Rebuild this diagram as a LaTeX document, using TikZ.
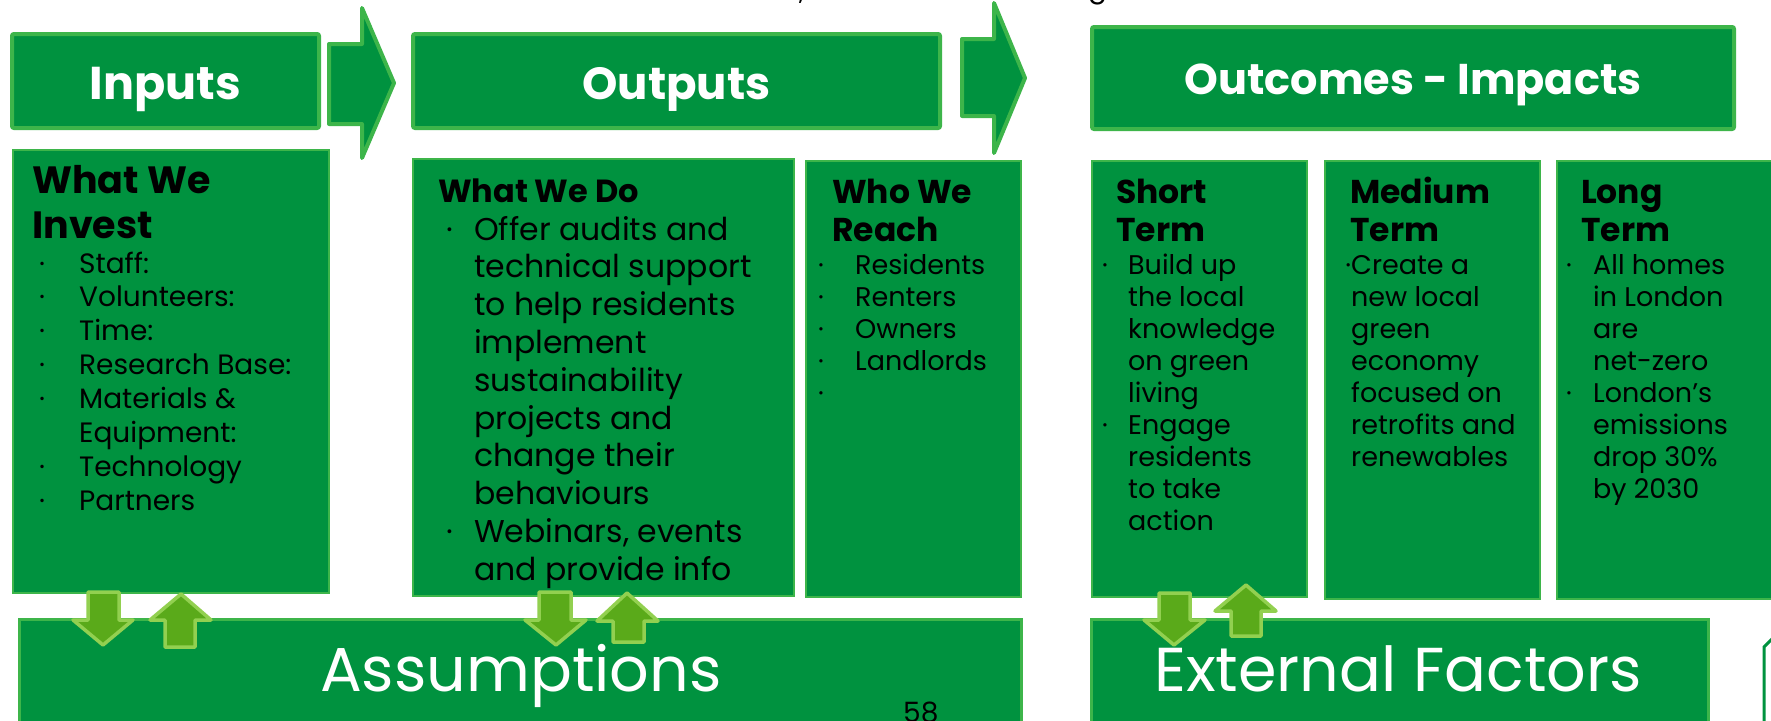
\documentclass[tikz,border=0pt]{standalone}
\usepackage{fontspec}
\setmainfont{Poppins}
\usepackage{graphicx}
\definecolor{dg}{HTML}{00923F}
\definecolor{lg}{HTML}{3DB54A}
\definecolor{af}{HTML}{5AAA1A}
\definecolor{ab}{HTML}{92D050}
\renewcommand{\arraystretch}{1}
\begin{document}
\begin{tikzpicture}[x=1pt,y=-1pt,
  hdr/.style={fill=dg, draw=lg, line width=4pt, rounded corners=2pt},
  colbox/.style={fill=dg, draw=lg, line width=2pt},
  barbox/.style={fill=dg, draw=lg, line width=3pt},
  bigarrow/.style={fill=dg, draw=lg, line width=4pt, line join=round},
  smallarrow/.style={fill=af, draw=ab, line width=3.5pt, line join=round},
  htext/.style={text=white, inner sep=0pt, anchor=base, font=\fontsize{46}{50}\selectfont\bfseries},
  btext/.style={text=white, inner sep=0pt, anchor=base west, font=\fontsize{62}{66}\selectfont},
  txt/.style={inner sep=0pt, anchor=base west, text=black}
]
\clip (0,0) rectangle (1771,720);
\fill[white] (0,0) rectangle (1771,720);

% cut-off title descenders
\node[txt, font=\fontsize{28}{30}\selectfont] (t1) at (799,-1) {,};
\node[txt, font=\fontsize{28}{30}\selectfont] (t2) at (1088,-2) {g};

% headers
\draw[hdr] (12,34) rectangle (319,128);
\draw[hdr] (413,34) rectangle (940,128);
\draw[hdr] (1092,27) rectangle (1734,129);
\node[htext] (inputs) at (165.5,99) {Inputs};
\node[htext, font=\fontsize{45}{50}\selectfont\bfseries] (outputs) at (676.5,99) {Outputs};
\node[htext, font=\fontsize{43}{50}\selectfont\bfseries] (outcomes) at (1413,94) {Outcomes - Impacts};

% big arrows
\draw[bigarrow] (329,44) -- (362,44) -- (362,8) -- (394,83) -- (362,158) -- (362,124) -- (329,124) -- cycle;
\draw[bigarrow] (962,39) -- (994,39) -- (994,3) -- (1025,78) -- (994,153) -- (994,116) -- (962,116) -- cycle;

% columns
\draw[colbox] (13,150) rectangle (329,593);
\draw[colbox] (413,159) rectangle (794,596);
\draw[colbox] (806,161) rectangle (1021,597);
\draw[colbox] (1092,161) rectangle (1307,597);
\draw[colbox] (1325,161) rectangle (1540,599);
\draw[colbox] (1557,161) rectangle (1790,599);

% bars
\draw[barbox] (19,619) rectangle (1021,722);
\draw[barbox] (1091,619) rectangle (1708,722);
\draw[dg, line width=3pt] (1775,636) -- (1764,647) -- (1764,725);

% Inputs column
\node[txt] (investT) at (32,193) {\fontsize{38}{45}\selectfont\bfseries\begin{tabular}[t]{@{}l@{}}What We\\Invest\end{tabular}};
\node[txt] (investL) at (39,273) {\fontsize{28}{33.9}\selectfont\begin{tabular}[t]{@{}p{40pt}@{}l@{}}
· & Staff:\\ · & Volunteers:\\ · & Time:\\ · & Research Base:\\ · & Materials \&\\ & Equipment:\\ · & Technology\\ · & Partners\end{tabular}};

% What We Do
\node[txt] (doT) at (438,202) {\fontsize{32}{38}\selectfont\bfseries What We Do};
\node[txt] (doL) at (446,240) {\fontsize{31.5}{37.8}\selectfont\begin{tabular}[t]{@{}p{28pt}@{}l@{}}
· & Offer audits and\\ & technical support\\ & to help residents\\ & implement\\ & sustainability\\ & projects and\\ & change their\\ & behaviours\\ · & Webinars, events\\ & and provide info\end{tabular}};

% Who We Reach
\node[txt] (whoT) at (832,203) {\fontsize{33}{38}\selectfont\bfseries\begin{tabular}[t]{@{}l@{}}Who We\\Reach\end{tabular}};
\node[txt] (whoL) at (818,274) {\fontsize{27}{32}\selectfont\begin{tabular}[t]{@{}p{37pt}@{}l@{}}
· & Residents\\ · & Renters\\ · & Owners\\ · & Landlords\\ · & \end{tabular}};

% Short term
\node[txt] (shortT) at (1116,203) {\fontsize{33}{38.5}\selectfont\bfseries\begin{tabular}[t]{@{}l@{}}Short\\Term\end{tabular}};
\node[txt] (shortL) at (1102,274) {\fontsize{27}{32}\selectfont\begin{tabular}[t]{@{}p{26pt}@{}l@{}}
· & Build up\\ & the local\\ & knowledge\\ & on green\\ & living\\ · & Engage\\ & residents\\ & to take\\ & action\end{tabular}};

% Medium term
\node[txt] (medT) at (1350,203) {\fontsize{33}{38.5}\selectfont\bfseries\begin{tabular}[t]{@{}l@{}}Medium\\Term\end{tabular}};
\node[txt] (medL) at (1351,274) {\fontsize{27}{32}\selectfont\begin{tabular}[t]{@{}l@{}}
\llap{·}Create a\\ new local\\ green\\ economy\\ focused on\\ retrofits and\\ renewables\end{tabular}};

% Long term
\node[txt] (longT) at (1581,203) {\fontsize{33}{38.5}\selectfont\bfseries\begin{tabular}[t]{@{}l@{}}Long\\Term\end{tabular}};
\node[txt] (longL) at (1566,274) {\fontsize{27}{32}\selectfont\begin{tabular}[t]{@{}p{27pt}@{}l@{}}
· & All homes\\ & in London\\ & are\\ & net-zero\\ · & London’s\\ & emissions\\ & drop 30\%\\ & by 2030\end{tabular}};

% bar texts
\node[btext] (assump) at (320,691) {Assumptions};
\node[btext] (extf) at (1154,691) {External Factors};
\node[txt, font=\fontsize{28}{30}\selectfont] (pg) at (903,722) {58};

% small arrows
\draw[smallarrow] (88,592) -- (119,592) -- (119,620) -- (133,620) -- (103,645) -- (73,620) -- (88,620) -- cycle;
\draw[smallarrow] (181,594) -- (211,620) -- (195,620) -- (195,647) -- (165,647) -- (165,620) -- (150,620) -- cycle;
\draw[smallarrow] (539,592) -- (571,592) -- (571,620) -- (586,620) -- (556,645) -- (525,620) -- (539,620) -- cycle;
\draw[smallarrow] (627,593) -- (658,621) -- (644,621) -- (644,642) -- (613,642) -- (613,621) -- (597,621) -- cycle;
\draw[smallarrow] (1159,593) -- (1190,593) -- (1190,620) -- (1205,620) -- (1174,645) -- (1144,620) -- (1159,620) -- cycle;
\draw[smallarrow] (1246,585) -- (1276,611) -- (1261,611) -- (1261,636) -- (1231,636) -- (1231,611) -- (1215,611) -- cycle;
\end{tikzpicture}
\end{document}
